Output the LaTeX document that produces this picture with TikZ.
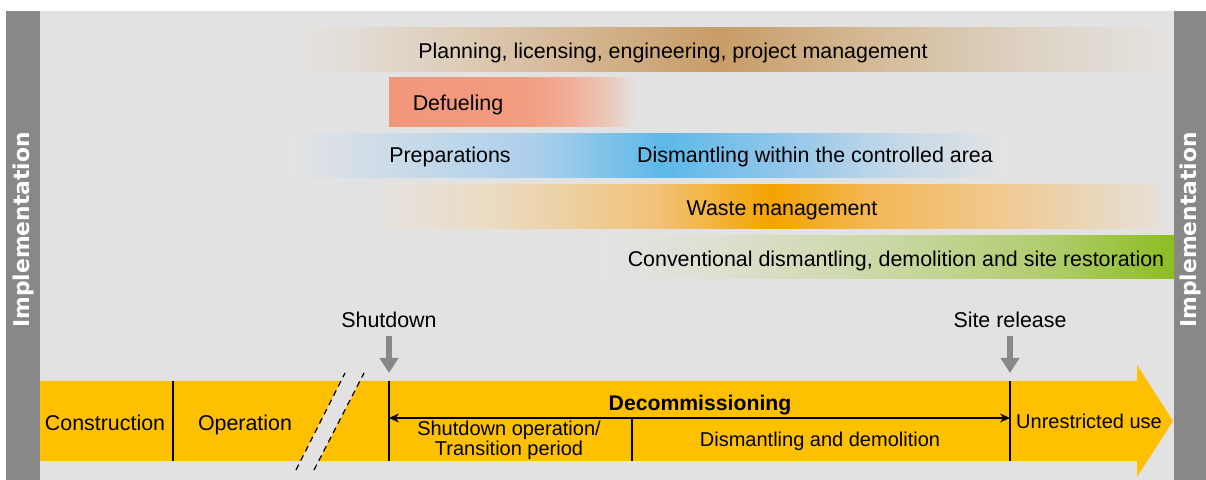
\documentclass[tikz,border=0pt]{standalone}
\usepackage{fontspec}
\setmainfont{Liberation Sans}
\newfontfamily\barfont{DejaVu Sans}
\usetikzlibrary{arrows.meta}

\definecolor{panelgray}{HTML}{E2E2E2}
\definecolor{bargray}{HTML}{888888}
\definecolor{timeyellow}{HTML}{FFC000}

\definecolor{plA}{HTML}{E3E2E0}
\definecolor{plB}{HTML}{E2DCD4}
\definecolor{plC}{HTML}{DDCBB5}
\definecolor{plD}{HTML}{C89C66}
\definecolor{plE}{HTML}{D6BF9F}
\definecolor{plF}{HTML}{DFD7CC}
\definecolor{plG}{HTML}{E3E1DF}

\definecolor{dfA}{HTML}{F2967A}
\definecolor{dfB}{HTML}{F29C80}
\definecolor{dfC}{HTML}{F1AE97}
\definecolor{dfD}{HTML}{EBCABD}
\definecolor{dfE}{HTML}{E3E1E0}

\definecolor{blA}{HTML}{E3E3E3}
\definecolor{blB}{HTML}{CCDCE8}
\definecolor{blC}{HTML}{A9CFEC}
\definecolor{blD}{HTML}{5DB8E8}
\definecolor{blE}{HTML}{95C7EA}
\definecolor{blF}{HTML}{C5D9E8}

\definecolor{wsA}{HTML}{E5E2DD}
\definecolor{wsB}{HTML}{EBDABF}
\definecolor{wsC}{HTML}{F1C278}
\definecolor{wsD}{HTML}{F5A300}
\definecolor{wsE}{HTML}{F3B752}
\definecolor{wsF}{HTML}{F0CA92}
\definecolor{wsG}{HTML}{E6E0D8}

\definecolor{grA}{HTML}{E3E3E3}
\definecolor{grB}{HTML}{DDE0D0}
\definecolor{grC}{HTML}{C9D8A4}
\definecolor{grD}{HTML}{B0CC6E}
\definecolor{grE}{HTML}{8CBE21}

% the band lies between 25bp and 75bp of each shading
\pgfdeclarehorizontalshading{planshade}{100bp}{color(0bp)=(plA); color(25bp)=(plA); color(29bp)=(plB); color(35bp)=(plC); color(49.5bp)=(plD); color(60bp)=(plE); color(69bp)=(plF); color(75bp)=(plG); color(100bp)=(plG)}
\pgfdeclarehorizontalshading{defuelshade}{100bp}{color(0bp)=(dfA); color(25bp)=(dfA); color(52bp)=(dfB); color(62bp)=(dfC); color(70bp)=(dfD); color(75bp)=(dfE); color(100bp)=(dfE)}
\pgfdeclarehorizontalshading{prepshade}{100bp}{color(0bp)=(blA); color(25bp)=(blA); color(32bp)=(blB); color(42.5bp)=(blC); color(51bp)=(blD); color(60bp)=(blE); color(67.5bp)=(blF); color(75bp)=(blA); color(100bp)=(blA)}
\pgfdeclarehorizontalshading{wasteshade}{100bp}{color(0bp)=(wsA); color(25bp)=(wsA); color(32.5bp)=(wsB); color(42.5bp)=(wsC); color(50bp)=(wsD); color(56bp)=(wsE); color(65bp)=(wsF); color(75bp)=(wsG); color(100bp)=(wsG)}
\pgfdeclarehorizontalshading{convshade}{100bp}{color(0bp)=(grA); color(25bp)=(grA); color(35bp)=(grB); color(50bp)=(grC); color(64bp)=(grD); color(75bp)=(grE); color(100bp)=(grE)}

\begin{document}
\begin{tikzpicture}[x=0.5pt,y=-0.5pt,
    lbl/.style={font=\fontsize{10.7}{12}\selectfont,inner sep=0pt,text height=7.6pt,text depth=0pt},
    sublbl/.style={font=\fontsize{10}{9}\selectfont,inner sep=0pt,text height=7.2pt,text depth=0pt},
    sidelbl/.style={font=\barfont\bfseries\fontsize{10.9}{12}\selectfont,text=white,rotate=90,inner sep=0pt},
    divider/.style={line width=0.65pt},
    breakline/.style={line width=0.6pt,dash pattern=on 3pt off 2.2pt},
    marker/.style={bargray,line width=3pt,-{Triangle[length=7.5pt,width=9pt]},shorten <=4.2pt,shorten >=4pt},
    span/.style={line width=0.6pt,{Stealth[length=5pt,width=4.5pt]}-{Stealth[length=5pt,width=4.5pt]}}]
  %%%%% START %%%%%
  \useasboundingbox (0,0) rectangle (1206,480);

  \fill[panelgray] (6,11) rectangle (1206,480);
  \fill[bargray] (6,11) rectangle (40,480);
  \fill[bargray] (1174,11) rectangle (1206,480);
  \node[sidelbl] (implL) at (23,230) {Implementation};
  \node[sidelbl] (implR) at (1190,230) {Implementation};

  % activity bands
  \shade[shading=planshade] (290,28) rectangle (1165,72);
  \shade[shading=defuelshade] (389,78) rectangle (635,127);
  \shade[shading=prepshade] (290,134) rectangle (1005,178);
  \shade[shading=wasteshade] (385,185) rectangle (1160,229);
  \shade[shading=convshade] (600,236) rectangle (1174,279);

  \node[lbl] (plan) at (673,51) {Planning, licensing, engineering, project management};
  \node[lbl] (defuel) at (458,103) {Defueling};
  \node[lbl] (prep) at (450,155) {Preparations};
  \node[lbl] (dismca) at (815,155) {Dismantling within the controlled area};
  \node[lbl] (waste) at (782,207.5) {Waste management};
  \node[lbl] (conv) at (896,258.5) {Conventional dismantling, demolition and site restoration};

  % time line
  \fill[timeyellow] (40,381) -- (1137,381) -- (1137,365) -- (1173,421) -- (1137,477) -- (1137,461) -- (40,461) -- cycle;
  \fill[panelgray] (296,470) -- (345,373) -- (364,373) -- (314,470) -- cycle;
  \draw[breakline] (296,470) -- (345,373);
  \draw[breakline] (314,470) -- (364,373);

  \coordinate (shutpt) at (389,381);
  \coordinate (sitept) at (1010,381);
  \draw[divider] (173,381) -- (173,461);
  \draw[divider] (shutpt) -- (389,461);
  \draw[divider] (sitept) -- (1010,461);
  \draw[divider] (632,418) -- (632,461);

  \coordinate (decL) at (389,418);
  \coordinate (decR) at (1010,418);
  \draw[span] (decL) -- (decR);

  \node[lbl] (constr) at (105,422.5) {Construction};
  \node[lbl] (oper) at (245,422.5) {Operation};
  \node[lbl,font=\bfseries\fontsize{10.6}{12}\selectfont] (decom) at (700,403) {Decommissioning};
  \node[font=\fontsize{10}{9.1}\selectfont,inner sep=0pt,align=center] (trans) at (509,440.5) {Shutdown operation/\\Transition period};
  \node[sublbl] (dism) at (820,439) {Dismantling and demolition};
  \node[sublbl] (unres) at (1089,421) {Unrestricted use};

  \node[lbl] (shutlbl) at (389,320) {Shutdown};
  \node[lbl] (sitelbl) at (1010,320) {Site release};
  \draw[marker] (shutlbl) -- (shutpt);
  \draw[marker] (sitelbl) -- (sitept);
  %%%%% END %%%%%
\end{tikzpicture}
\end{document}
